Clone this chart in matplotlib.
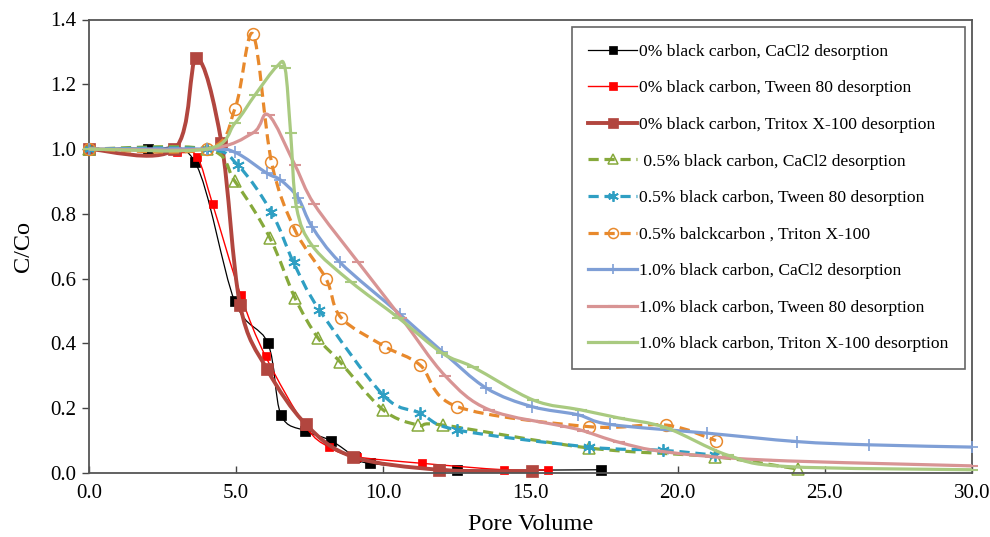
import matplotlib
matplotlib.use("Agg")
import matplotlib.pyplot as plt
from matplotlib.path import Path
from matplotlib.patches import PathPatch
from matplotlib.lines import Line2D
import numpy as np

plt.rcParams['font.family'] = ['Liberation Serif', 'DejaVu Serif']

# ---------------- data ----------------
labels = [
    "0% black carbon, CaCl2 desorption",
    "0% black carbon, Tween 80 desorption",
    "0% black carbon, Tritox X-100 desorption",
    " 0.5% black carbon, CaCl2 desorption",
    "0.5% black carbon, Tween 80 desorption",
    "0.5% balckcarbon , Triton X-100",
    "1.0% black carbon, CaCl2 desorption",
    "1.0% black carbon, Tween 80 desorption",
    "1.0% black carbon, Triton X-100 desorption",
]

bc0_cacl2_x = [0.0, 2.0, 3.6, 4.95, 6.08, 6.52, 7.34, 8.22, 9.04, 9.55, 12.5, 17.4]
bc0_cacl2_y = [1.0, 1.0, 0.96, 0.53, 0.40, 0.18, 0.13, 0.10, 0.05, 0.03, 0.01, 0.01]

bc0_tween_x = [0.0, 3.0, 3.67, 4.2, 5.15, 6.0, 7.35, 8.15, 9.1, 11.3, 14.1, 15.6]
bc0_tween_y = [1.0, 0.99, 0.975, 0.83, 0.55, 0.36, 0.145, 0.08, 0.05, 0.03, 0.01, 0.01]

bc0_triton_x = [0.0, 2.9, 3.65, 4.5, 5.13, 6.05, 7.37, 8.97, 11.9, 15.05]
bc0_triton_y = [1.0, 1.0, 1.28, 1.02, 0.52, 0.32, 0.15, 0.05, 0.01, 0.005]

bc05_cacl2_x = [0.0, 4.0, 4.96, 6.15, 7.0, 7.78, 8.53, 9.99, 11.18, 12.03, 17.0, 21.27, 24.1]
bc05_cacl2_y = [1.0, 1.0, 0.90, 0.725, 0.54, 0.417, 0.343, 0.195, 0.148, 0.148, 0.077, 0.05, 0.012]

bc05_tween_x = [0.0, 4.0, 5.06, 6.2, 6.95, 7.83, 10.0, 11.25, 12.5, 17.0, 19.5, 21.27]
bc05_tween_y = [1.0, 1.0, 0.95, 0.805, 0.65, 0.503, 0.24, 0.185, 0.133, 0.08, 0.07, 0.055]

bc05_triton_x = [0.0, 4.0, 4.96, 5.57, 6.2, 7.0, 8.05, 8.56, 10.06, 11.25, 12.5, 17.0, 19.6, 21.3]
bc05_triton_y = [1.0, 1.0, 1.125, 1.355, 0.96, 0.75, 0.60, 0.48, 0.39, 0.333, 0.205, 0.143, 0.148, 0.10]

bc1_cacl2_x = [0.0, 4.0, 4.96, 6.05, 6.5, 7.1, 7.58, 8.53, 10.57, 12.0, 13.5, 15.05, 16.6, 17.7, 21.0, 24.05, 26.5, 30.0]
bc1_cacl2_y = [1.0, 1.0, 0.99, 0.925, 0.905, 0.85, 0.76, 0.65, 0.49, 0.375, 0.262, 0.205, 0.18, 0.15, 0.123, 0.097, 0.087, 0.08]

bc1_tween_x = [0.0, 4.0, 5.57, 6.1, 7.0, 7.65, 9.15, 10.6, 12.1, 13.6, 16.2, 16.8, 18.0, 19.6, 23.0, 30.0]
bc1_tween_y = [1.0, 1.0, 1.05, 1.105, 0.95, 0.83, 0.65, 0.48, 0.30, 0.195, 0.143, 0.13, 0.095, 0.065, 0.04, 0.022]

bc1_triton_x = [0.0, 4.0, 4.96, 5.64, 6.38, 6.66, 6.85, 7.05, 7.6, 8.9, 10.5, 12.0, 13.05, 15.1, 16.7, 18.0, 19.6, 21.7, 23.7, 30.0]
bc1_triton_y = [1.0, 1.0, 1.08, 1.167, 1.255, 1.25, 1.05, 0.82, 0.70, 0.59, 0.48, 0.37, 0.327, 0.225, 0.195, 0.17, 0.14, 0.055, 0.02, 0.01]

xs = [bc0_cacl2_x, bc0_tween_x, bc0_triton_x, bc05_cacl2_x, bc05_tween_x,
      bc05_triton_x, bc1_cacl2_x, bc1_tween_x, bc1_triton_x]
ys = [bc0_cacl2_y, bc0_tween_y, bc0_triton_y, bc05_cacl2_y, bc05_tween_y,
      bc05_triton_y, bc1_cacl2_y, bc1_tween_y, bc1_triton_y]

x_ticks = [0, 5, 10, 15, 20, 25, 30]
y_ticks = [0.0, 0.2, 0.4, 0.6, 0.8, 1.0, 1.2, 1.4]

# ---------------- styles ----------------
asterisk = (6, 2, 0)
styles = [
    dict(color="#000000", lw=0.9, ls="-", marker="s", ms=7, mfc="#000000", mew=0.5),
    dict(color="#ff0000", lw=1.0, ls="-", marker="s", ms=6, mfc="#ff0000", mew=0.5),
    dict(color="#b2463f", lw=2.8, ls="-", marker="s", ms=8.5, mfc="#b2463f", mew=0.5),
    dict(color="#86a93b", lw=2.3, ls=(0, (3.2, 1.8)), marker="^", ms=8, mfc="none", mew=1.1),
    dict(color="#2f9fc3", lw=2.3, ls=(0, (3.2, 1.8)), marker=asterisk, ms=9, mfc="none", mew=1.3),
    dict(color="#e8892c", lw=2.3, ls=(0, (3.2, 1.8)), marker="o", ms=8.5, mfc="none", mew=1.1),
    dict(color="#7f9fd6", lw=2.3, ls="-", marker="+", ms=9, mfc="none", mew=1.2),
    dict(color="#d89494", lw=2.3, ls="-", marker="_", ms=8, mfc="none", mew=1.5),
    dict(color="#a9ca80", lw=2.3, ls="-", marker="_", ms=8, mfc="none", mew=1.5),
]


def smooth_path(x, y):
    """Excel-style smoothed line as cubic Bezier path (control points only)."""
    p = np.column_stack([x, y]).astype(float)
    n = len(p)
    verts = [p[0]]
    codes = [Path.MOVETO]
    for i in range(n - 1):
        p0 = p[i - 1] if i > 0 else p[i]
        p1 = p[i]
        p2 = p[i + 1]
        p3 = p[i + 2] if i + 2 < n else p[i + 1]
        c1 = p1 + (p2 - p0) / 6.0
        c2 = p2 - (p3 - p1) / 6.0
        verts += [c1, c2, p2]
        codes += [Path.CURVE4] * 3
    return Path(verts, codes)


fig = plt.figure(figsize=(9.9, 5.37), dpi=100)
ax = fig.add_axes([89 / 990, 1 - 473 / 537, (972 - 89) / 990, (473 - 19.5) / 537])

handles = []
for i, (x, y, st) in enumerate(zip(xs, ys, styles)):
    patch = PathPatch(smooth_path(x, y), fill=False, edgecolor=st["color"],
                      lw=st["lw"], ls=st["ls"], zorder=2 + i * 0.1,
                      capstyle="butt", joinstyle="round")
    ax.add_patch(patch)
    ax.plot(x, y, ls="none", marker=st["marker"], ms=st["ms"],
            mfc=st["mfc"], mec=st["color"], mew=st["mew"], zorder=2.05 + i * 0.1,
            clip_on=False)
    handles.append(Line2D([], [], color=st["color"], lw=st["lw"], ls=st["ls"],
                          marker=st["marker"], ms=st["ms"] * 0.85, mfc=st["mfc"],
                          mec=st["color"], mew=st["mew"]))

ax.set_xlim(0, 30)
ax.set_ylim(0, 1.4)
ax.set_xticks(x_ticks)
ax.set_xticklabels([f"{v:.1f}" for v in x_ticks])
ax.set_yticks(y_ticks)
ax.set_yticklabels([f"{v:.1f}" for v in y_ticks])
ax.tick_params(axis="x", direction="in", length=5, width=1, pad=8, labelsize=15, color="#444444")
ax.tick_params(axis="y", direction="out", length=5, width=1, pad=4, labelsize=15, color="#444444")
for s in ax.spines.values():
    s.set_color("#555555")
    s.set_linewidth(1.3)

ax.set_xlabel("Pore Volume", fontsize=17.5, labelpad=8)
ax.set_ylabel("C/Co", fontsize=17.5, labelpad=12)

leg = ax.legend(handles, labels, loc="upper right",
                bbox_to_anchor=(965 / 990, 1 - 27 / 537), bbox_transform=fig.transFigure,
                borderaxespad=0, fontsize=12.6, frameon=True, fancybox=False,
                edgecolor="#666666", handlelength=2.8, handletextpad=0.1,
                labelspacing=1.16, borderpad=0.95, framealpha=1)
leg.get_frame().set_linewidth(1.2)

fig.savefig("out.png", dpi=100)
